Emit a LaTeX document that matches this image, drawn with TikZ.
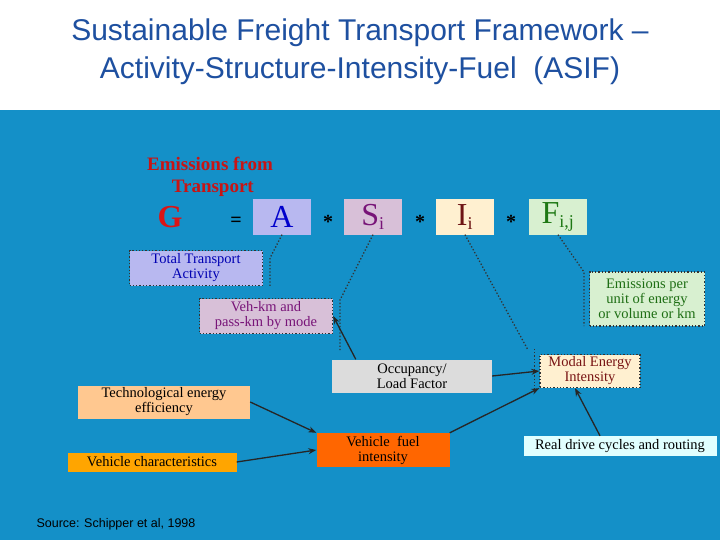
\documentclass[tikz,border=0pt]{standalone}
\usepackage{fontspec}
\usetikzlibrary{arrows.meta}
\setmainfont{Liberation Serif}
\newfontfamily\sans{Liberation Sans}
\begin{document}
\begin{tikzpicture}[x=1pt,y=-1pt,
 bx/.style={draw=none,inner sep=1pt,align=center,font=\fontsize{14.5}{15}\selectfont},
 dt/.style={draw=black!80,dotted,line width=1.3pt},
 dl/.style={black!80,dotted,line width=1.3pt},
 ar/.style={-{Stealth[length=8pt,width=6pt]},line width=1.3pt,black!85},
 big/.style={font=\fontsize{32}{34}\selectfont,inner sep=0pt},
 star/.style={font=\bfseries\fontsize{20}{20}\selectfont}]
\useasboundingbox (0,0) rectangle (720,540);
\fill[white] (0,0) rectangle (720,110);
\fill[fill={rgb,255:red,20;green,144;blue,200}] (0,110) rectangle (720,540);
\node[font=\sans\fontsize{30}{38}\selectfont,text={rgb,255:red,30;green,80;blue,160},align=center] (title) at (360,52) {Sustainable Freight Transport Framework –\\Activity-Structure-Intensity-Fuel\ \ (ASIF)};
\node[text={rgb,255:red,200;green,20;blue,20},font=\bfseries\fontsize{19}{22}\selectfont,align=left] (em) at (210,177) {Emissions from\\\hspace{1.3em}Transport};
\node[text={rgb,255:red,220;green,20;blue,20},font=\bfseries\fontsize{32}{32}\selectfont] (G) at (170,217) {G};
\node[star] (eq) at (236,222) {=};
\node[fill={rgb,255:red,184;green,184;blue,240},minimum width=58pt,minimum height=35pt,text=blue!80!black,big] (A) at (282,217) {A};
\node[star] (s1) at (328,222) {*};
\node[fill={rgb,255:red,216;green,192;blue,216},minimum width=58pt,minimum height=35pt,text={rgb,255:red,120;green,20;blue,120},big] (S) at (373,217) {S\textsubscript{\fontsize{18}{18}\selectfont i}};
\node[star] (s2) at (420,222) {*};
\node[fill={rgb,255:red,255;green,240;blue,208},minimum width=58pt,minimum height=35pt,text={rgb,255:red,110;green,20;blue,20},big] (I) at (465,217) {I\textsubscript{\fontsize{18}{18}\selectfont i}};
\node[star] (s3) at (511,222) {*};
\node[fill={rgb,255:red,216;green,240;blue,208},minimum width=58pt,minimum height=35pt,text={rgb,255:red,30;green,120;blue,20},big] (F) at (558,217) {F\textsubscript{\fontsize{18}{18}\selectfont i,j}};
\node[bx,dt,fill={rgb,255:red,184;green,184;blue,240},text=blue!70!black,minimum width=133pt,minimum height=35pt] (TTA) at (196,268) {Total Transport\\Activity};
\node[bx,dt,fill={rgb,255:red,216;green,192;blue,216},text={rgb,255:red,120;green,20;blue,120},minimum width=133pt,minimum height=35pt] (VK) at (266,316) {Veh-km and\\pass-km by mode};
\node[bx,dt,fill={rgb,255:red,216;green,240;blue,208},text={rgb,255:red,30;green,110;blue,20},minimum width=115pt,minimum height=54pt] (EP) at (647,299) {Emissions per\\unit of energy\\or volume or km};
\node[bx,fill={rgb,255:red,220;green,220;blue,220},minimum width=160pt,minimum height=33pt] (OC) at (412,376) {Occupancy/\\Load Factor};
\node[bx,dt,fill={rgb,255:red,255;green,240;blue,208},text={rgb,255:red,120;green,20;blue,20},minimum width=100pt,minimum height=33pt] (ME) at (590,371) {Modal Energy\\Intensity};
\node[bx,fill={rgb,255:red,255;green,200;blue,144},minimum width=172pt,minimum height=33pt] (TE) at (164,402) {Technological energy\\efficiency};
\node[bx,fill={rgb,255:red,255;green,165;blue,0},minimum width=169pt,minimum height=19pt] (VC) at (152,462) {Vehicle characteristics};
\node[bx,fill={rgb,255:red,255;green,102;blue,0},minimum width=133pt,minimum height=34pt] (VF) at (383,450) {Vehicle\ \ fuel\\intensity};
\node[bx,fill={rgb,255:red,224;green,255;blue,255},minimum width=193pt,minimum height=20pt] (RD) at (620,446) {Real drive cycles and routing};
\node[font=\sans\fontsize{12.5}{14}\selectfont,anchor=west] (src) at (33,524) {Source: Schipper et al, 1998};
\draw[dl] (A.south) -- (270,258) -- (270,287);
\draw[dl] (S.south) -- (340,300) -- (340,352);
\draw[dl] (I.south) -- (528,350);
\draw[dl] (ME.north west)++(-5,-5) -- ++(0,40);
\draw[dl] (F.south) -- (584,272) -- (584,326);
\draw[ar] (OC.north west)++(24,0) -- (VK.east);
\draw[ar] (OC.east) -- (ME.west);
\draw[ar] (TE.east) -- (VF.north west);
\draw[ar] (VC.east) -- (VF.west);
\draw[ar] (VF.north east) -- (ME.south west);
\draw[ar] (RD.north)++(-20,0) -- ([xshift=-15pt]ME.south);
\end{tikzpicture}
\end{document}
